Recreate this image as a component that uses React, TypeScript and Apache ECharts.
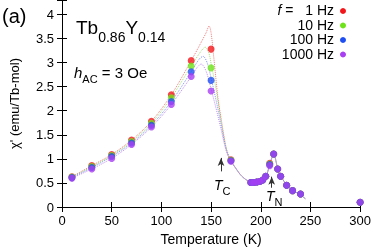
import React, { useEffect, useRef } from "react";
import * as echarts from "echarts";

// ---- data ----
const lowT = [10, 30, 50, 70, 90, 110, 130, 150];
const highT = [170, 190, 193, 196, 199, 202, 205, 209, 213, 217, 220, 226, 232, 240, 300];

const red1Hz = [0.63, 0.86, 1.09, 1.39, 1.78, 2.33, 3.04, 3.28];
const green10Hz = [0.62, 0.84, 1.07, 1.36, 1.74, 2.27, 2.93, 2.89];
const blue100Hz = [0.61, 0.82, 1.05, 1.33, 1.70, 2.19, 2.81, 2.63];
const purple1000Hz = [0.60, 0.79, 1.01, 1.30, 1.66, 2.13, 2.71, 2.41];

const red1HzHigh = [0.98, 0.51, 0.51, 0.52, 0.53, 0.56, 0.64, 0.91, 1.10, 0.79, 0.64, 0.45, 0.34, 0.27, 0.10];
const green10HzHigh = [0.97, 0.51, 0.51, 0.52, 0.53, 0.56, 0.64, 0.89, 1.10, 0.79, 0.64, 0.45, 0.34, 0.27, 0.10];
const blue100HzHigh = [0.96, 0.51, 0.51, 0.52, 0.53, 0.56, 0.64, 0.88, 1.10, 0.79, 0.64, 0.45, 0.34, 0.27, 0.10];
const purple1000HzHigh = [0.95, 0.51, 0.51, 0.52, 0.53, 0.56, 0.64, 0.86, 1.10, 0.79, 0.64, 0.45, 0.34, 0.27, 0.10];

// guide curves (dotted)
const curveRedT = [10, 30, 50, 70, 90, 110, 130, 140, 145, 148, 150, 153, 157, 160, 164, 167, 170];
const curveRed = [0.63, 0.86, 1.09, 1.39, 1.78, 2.33, 3.04, 3.42, 3.62, 3.76, 3.62, 3.05, 2.25, 1.85, 1.35, 1.07, 0.97];
const curveGreenT = [10, 30, 50, 70, 90, 110, 130, 140, 144, 148, 150, 155, 160, 165, 170];
const curveGreen = [0.62, 0.84, 1.07, 1.36, 1.74, 2.27, 2.93, 3.24, 3.32, 3.18, 2.98, 2.45, 1.80, 1.25, 0.96];
const curveBlueT = [10, 30, 50, 70, 90, 110, 130, 138, 142, 146, 150, 155, 160, 165, 170];
const curveBlue = [0.61, 0.82, 1.05, 1.33, 1.70, 2.19, 2.81, 3.07, 3.13, 3.00, 2.68, 2.22, 1.72, 1.22, 0.95];
const curvePurpleT = [10, 30, 50, 70, 90, 110, 130, 136, 140, 145, 150, 155, 160, 165, 170];
const curvePurple = [0.60, 0.79, 1.01, 1.30, 1.66, 2.13, 2.71, 2.90, 2.97, 2.82, 2.45, 2.05, 1.62, 1.18, 0.95];
const curveTailT = [175, 180, 185, 190, 195, 200, 203, 206, 209, 213, 217, 220, 226, 232, 240, 245];
const curveTail = [0.80, 0.66, 0.57, 0.52, 0.51, 0.53, 0.57, 0.67, 0.88, 1.10, 0.80, 0.65, 0.46, 0.35, 0.25, 0.17];

const freqLabels = ["1 Hz", "10 Hz", "100 Hz", "1000 Hz"];
const xTicks = [0, 300, 50];
const yTicks = [0, 4.3, 0.5];

// arrows marking T_C and T_N
const arrowT = [160, 211];
const arrowFrom = [0.74, 0.40];
const arrowTo = [1.02, 0.63];

const pointColors = ["#f2161b", "#6fe31a", "#1f4ff2", "#a83ff2"];
const curveColors = ["#f07a7a", "#9fe070", "#7f97f0", "#c08cf0"];

const FONT = "Liberation Sans, Arial, Helvetica, sans-serif";

function zip(xs: number[], ys: number[]) {
  return xs.map((x, i) => [x, ys[i]]);
}

export default function App() {
  const ref = useRef<HTMLDivElement>(null);
  useEffect(() => {
    if (!ref.current) return;
    const chart = echarts.init(ref.current, undefined, { renderer: "svg" });
    const lows = [red1Hz, green10Hz, blue100Hz, purple1000Hz];
    const highs = [red1HzHigh, green10HzHigh, blue100HzHigh, purple1000HzHigh];
    const curves = [
      [curveRedT, curveRed],
      [curveGreenT, curveGreen],
      [curveBlueT, curveBlue],
      [curvePurpleT, curvePurple],
    ];
    const series: any[] = [];
    curves.forEach((c, i) => {
      series.push({
        type: "line",
        name: "curve" + i,
        data: zip(c[0], c[1]).concat(zip(curveTailT, curveTail)),
        smooth: 0.3,
        showSymbol: false,
        silent: true,
        lineStyle: { color: curveColors[i], width: 1, type: "dotted" },
        z: 1,
      });
    });
    lows.forEach((l, i) => {
      series.push({
        type: "scatter",
        name: freqLabels[i],
        data: zip(lowT, l).concat(zip(highT, highs[i])),
        symbol: "circle",
        symbolSize: 7,
        itemStyle: { color: pointColors[i] },
        z: 3 + i,
        ...(i === 3
          ? {
              markLine: {
                silent: true,
                symbol: ["none", "arrow"],
                symbolSize: [5, 8],
                label: { show: false },
                lineStyle: { color: "#333", width: 1, type: "solid" },
                data: arrowT.map((t, k) => [
                  { coord: [t, arrowFrom[k]] },
                  { coord: [t, arrowTo[k]] },
                ]),
              },
            }
          : {}),
      });
    });

    const legendGraphics: any[] = [];
    const rowY = [11, 25.5, 40, 54.5];
    freqLabels.forEach((lab, i) => {
      legendGraphics.push({
        type: "text",
        right: 40,
        top: rowY[i] - 8,
        style: {
          text: i === 0 ? "{i|f} {n|=   " + lab + "}" : "{n|" + lab + "}",
          rich: {
            i: { fontStyle: "italic", fontSize: 14, fontFamily: FONT, fill: "#000" },
            n: { fontSize: 14, fontFamily: FONT, fill: "#000" },
          },
          fontSize: 14,
          fontFamily: FONT,
          fill: "#000",
        },
      });
      legendGraphics.push({
        type: "circle",
        shape: { cx: 343, cy: rowY[i], r: 3 },
        style: { fill: pointColors[i] },
      });
    });

    chart.setOption({
      animation: false,
      textStyle: { fontFamily: FONT },
      grid: { left: 61, right: 13, top: 0, bottom: 44 },
      xAxis: [
        {
          type: "value",
          min: xTicks[0],
          max: xTicks[1],
          interval: xTicks[2],
          name: "Temperature (K)",
          nameLocation: "middle",
          nameGap: 25,
          nameTextStyle: { fontSize: 14, color: "#000", fontFamily: FONT },
          axisLine: { lineStyle: { color: "#000", width: 1 } },
          axisTick: { inside: true, length: 5, lineStyle: { color: "#000" } },
          axisLabel: { fontSize: 13, color: "#000", margin: 7, fontFamily: FONT },
          splitLine: { show: false },
        },
        {
          type: "value",
          position: "top",
          min: xTicks[0],
          max: xTicks[1],
          interval: xTicks[2],
          axisLine: { lineStyle: { color: "#000", width: 1 } },
          axisTick: { inside: true, length: 5, lineStyle: { color: "#000" } },
          axisLabel: { show: false },
          splitLine: { show: false },
        },
      ],
      yAxis: [
        {
          type: "value",
          min: yTicks[0],
          max: yTicks[1],
          interval: yTicks[2],
          name: "χ' (emu/Tb-mol)",
          nameLocation: "middle",
          nameGap: 41,
          nameTextStyle: { fontSize: 13, color: "#000", fontFamily: FONT },
          axisLine: { lineStyle: { color: "#000", width: 1 } },
          axisTick: { inside: true, length: 5, lineStyle: { color: "#000" } },
          axisLabel: {
            fontSize: 13,
            color: "#000",
            margin: 8,
            fontFamily: FONT,
            formatter: (v: number) =>
              Math.abs(v * 2 - Math.round(v * 2)) < 1e-6 ? String(v) : "",
          },
          splitLine: { show: false },
        },
        {
          type: "value",
          position: "right",
          min: yTicks[0],
          max: yTicks[1],
          interval: yTicks[2],
          axisLine: { lineStyle: { color: "#000", width: 1 } },
          axisTick: { inside: true, length: 5, lineStyle: { color: "#000" } },
          axisLabel: { show: false },
          splitLine: { show: false },
        },
      ],
      series,
      graphic: [
        {
          type: "text",
          left: 2,
          top: 6,
          style: { text: "(a)", fontSize: 20, fontFamily: FONT, fill: "#000" },
        },
        {
          type: "text",
          left: 76,
          top: 18,
          style: {
            text: "{a|Tb}{s|0.86}{a|Y}{s|0.14}",
            rich: {
              a: { fontSize: 19, fontFamily: FONT, fill: "#000", verticalAlign: "bottom", padding: [0, 0, 7, 0] },
              s: { fontSize: 14, fontFamily: FONT, fill: "#000", verticalAlign: "bottom" },
            },
          },
        },
        {
          type: "text",
          left: 74,
          top: 65,
          style: {
            text: "{h|h}{s|AC}{a| = 3 Oe}",
            rich: {
              h: { fontSize: 15, fontStyle: "italic", fontFamily: FONT, fill: "#000", verticalAlign: "bottom", padding: [0, 0, 4, 0] },
              s: { fontSize: 11, fontFamily: FONT, fill: "#000", verticalAlign: "bottom" },
              a: { fontSize: 15, fontFamily: FONT, fill: "#000", verticalAlign: "bottom", padding: [0, 0, 4, 0] },
            },
          },
        },
        {
          type: "text",
          left: 214,
          top: 178,
          style: {
            text: "{t|T}{s|C}",
            rich: {
              t: { fontSize: 14, fontStyle: "italic", fontFamily: FONT, fill: "#000", verticalAlign: "bottom", padding: [0, 0, 4, 0] },
              s: { fontSize: 11, fontFamily: FONT, fill: "#000", verticalAlign: "bottom" },
            },
          },
        },
        {
          type: "text",
          left: 266,
          top: 189,
          style: {
            text: "{t|T}{s|N}",
            rich: {
              t: { fontSize: 14, fontStyle: "italic", fontFamily: FONT, fill: "#000", verticalAlign: "bottom", padding: [0, 0, 4, 0] },
              s: { fontSize: 11, fontFamily: FONT, fill: "#000", verticalAlign: "bottom" },
            },
          },
        },
        ...legendGraphics,
      ],
    });
    return () => chart.dispose();
  }, []);
  return (
    <div
      ref={ref}
      style={{ position: "fixed", left: 0, top: 0, width: 374, height: 251 }}
    />
  );
}
